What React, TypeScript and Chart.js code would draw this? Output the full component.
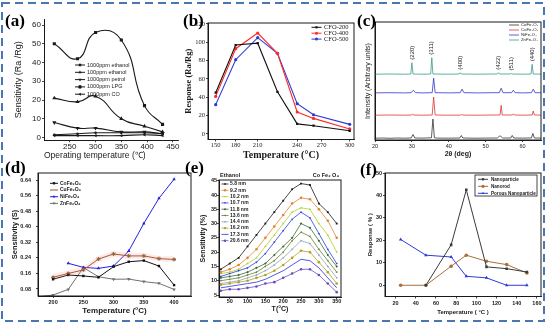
import React, { useEffect, useRef } from 'react';
import { Chart, registerables } from 'chart.js';
import { drawPoint } from 'chart.js/helpers';

Chart.register(...registerables);

// ---------------- (a) ----------------
const aTemps = [220, 265, 300, 350, 395, 430];
const aEthanol1000 = [50, 42, 56, 52, 17, 7];
const aEthanol100 = [21, 19, 22, 10, 6, 3];
const aPetrol = [8, 5, 5, 3, 3, 2];
const aLPG = [1.5, 2, 2.5, 2.5, 2.5, 2];
const aCO = [1, 1, 1, 1, 1.5, 1];
const aXTicks = [250, 300, 350, 400, 450];
const aYTicks = [0, 10, 20, 30, 40, 50, 60];

// ---------------- (b) ----------------
const bTemps = [150, 180, 210, 225, 240, 260, 300];
const bCFO200 = [45, 97, 99, 46, 11, 9, 3.5];
const bCFO400 = [41, 93, 110, 88, 24, 17, 5.5];
const bCFO500 = [32, 81, 105, 88, 33, 21, 10.5];
const bXTicks = [150, 180, 210, 240, 270, 300];
// the printed temperature axis is not evenly spaced: position of each labelled tick along it
const bXTickStops = [0, 20, 42, 81.5, 106, 134];
const bYTicks = [0, 20, 40, 60, 80, 100, 120];

// ---------------- (c) XRD ----------------
const cNames = ['CoFe₂O₄', 'CuFe₂O₄', 'NiFe₂O₄', 'ZnFe₂O₄'];
const cOffsets = [1, 24, 46.3, 65];
const cCoTheta = [20, 22, 24, 26, 28, 29.8, 30.3, 30.8, 33, 35.3, 35.7, 36.1, 37, 40, 43.0, 43.4, 43.8, 47, 50, 53.2, 53.7, 54.1, 54.6, 56.8, 57.2, 57.6, 60, 62.4, 62.8, 63.2, 65];
const cCoI = [0.8, 1.0, 0.7, 1.0, 0.8, 1.0, 4.5, 1.0, 0.9, 1.2, 20, 1.2, 0.9, 0.8, 1.0, 3.5, 1.0, 0.8, 0.9, 1.0, 2.8, 2.8, 1.0, 1.0, 3.5, 1.0, 0.9, 1.0, 5.5, 1.0, 0.9];
const cCuTheta = [20, 24, 28, 29.9, 30.2, 30.5, 33, 35.5, 35.9, 36.3, 40, 43.2, 43.5, 43.8, 48, 52, 53.9, 54.2, 54.5, 57.1, 57.5, 57.9, 60, 62.6, 62.9, 63.2, 65];
const cCuI = [0.8, 1.0, 0.8, 1.0, 1.8, 1.0, 0.8, 1.0, 19, 1.0, 0.8, 0.9, 1.5, 0.9, 0.8, 1.0, 1.0, 10.7, 1.0, 1.0, 1.8, 1.0, 0.8, 1.0, 5, 1.0, 0.9];
const cNiTheta = [20, 24, 28, 29.8, 30.4, 31.0, 33, 35.5, 35.9, 36.3, 40, 43.1, 43.6, 44.1, 48, 52, 53.7, 54.2, 54.7, 57.0, 57.5, 58.0, 60, 62.4, 62.9, 63.4, 65];
const cNiI = [0.8, 1.0, 0.8, 1.0, 3.5, 1.0, 0.8, 1.0, 15.5, 1.0, 0.8, 1.0, 4.5, 1.0, 0.8, 1.0, 1.0, 5.5, 1.0, 1.0, 3.5, 1.0, 0.8, 1.0, 4.5, 1.0, 0.9];
const cZnTheta = [20, 24, 28, 29.7, 30.0, 30.3, 33, 35.1, 35.4, 35.7, 40, 42.8, 43.1, 43.4, 48, 52, 53.2, 53.5, 53.8, 56.7, 57.0, 57.3, 60, 62.3, 62.6, 62.9, 65];
const cZnI = [0.8, 1.0, 0.8, 1.0, 12.3, 1.0, 0.8, 1.0, 17.3, 1.0, 0.8, 1.0, 2.3, 1.0, 0.8, 1.0, 1.0, 2.3, 1.0, 1.0, 1.5, 1.0, 0.8, 1.0, 10.7, 1.0, 0.9];
const cPeakLabels = ['(220)', '(311)', '(400)', '(422)', '(511)', '(440)'];
const cPeakTheta = [30.0, 35.4, 43.1, 53.5, 57.0, 62.6];
const cXTicks = [20, 30, 40, 50, 60];

// ---------------- (d) ----------------
const dTemps = [200, 225, 250, 275, 300, 325, 350, 375, 400];
const dCo = [0.13, 0.152, 0.147, 0.14, 0.195, 0.22, 0.226, 0.198, 0.1];
const dCu = [0.14, 0.16, 0.178, 0.234, 0.26, 0.25, 0.25, 0.236, 0.232];
const dCuUpper = [0.158, 0.175, 0.195, 0.25, 0.275, 0.265, 0.265, 0.25, 0.248];
const dCuLower = [0.125, 0.145, 0.16, 0.22, 0.245, 0.235, 0.235, 0.222, 0.218];
const dNiTemps = [225, 250, 275, 300, 325, 350, 375, 400];
const dNi = [0.212, 0.191, 0.186, 0.198, 0.275, 0.417, 0.546, 0.644];
const dZnTemps = [175, 200, 225, 250, 275, 300, 325, 350, 375, 400];
const dZn = [0.04, 0.049, 0.078, 0.19, 0.143, 0.13, 0.131, 0.118, 0.109, 0.078];
const dXTicks = [200, 250, 300, 350, 400];
const dYTicks = [0.08, 0.16, 0.24, 0.32, 0.4, 0.48, 0.56, 0.64];

// ---------------- (e) ----------------
const eTemps = [25, 50, 75, 100, 125, 150, 175, 200, 225, 250, 275, 300, 325, 350];
const eSizes = ['5.8 nm', '9.2 nm', '10.2 nm', '10.7 nm', '11.8 nm', '13.6 nm', '14.4 nm', '16.2 nm', '17.3 nm', '20.6 nm'];
const e58 = [14, 16, 18, 22, 26, 30, 34, 38, 42, 44, 43.5, 37, 34, 30];
const e92 = [13, 14, 15.5, 18, 21, 25, 29, 33, 37, 39, 38.5, 35, 31, 25];
const e102 = [12.5, 13, 14, 16, 18, 22, 26, 30, 34, 35.5, 35, 30, 26, 20];
const e107 = [11.5, 12.5, 13.5, 14.5, 16.5, 19.5, 23.5, 27.5, 31.5, 34, 32, 26.5, 21, 16];
const e118 = [11, 11.5, 12, 13, 14.5, 16, 19, 22, 25, 30, 28.5, 24, 19, 15];
const e136 = [10, 10.5, 11, 12, 13, 15, 17, 20, 24, 27, 25.5, 21, 17, 13];
const e144 = [9, 9.5, 10, 11, 12, 13.5, 15.5, 18, 21, 24, 23, 19, 15, 11];
const e162 = [8.5, 9, 9.5, 10, 11, 12, 13.5, 15.5, 18, 20.5, 20, 16.5, 13, 9];
const e173 = [7.5, 8, 8.5, 9, 9.5, 10.5, 12, 13.5, 15.5, 17.5, 17, 14.5, 11, 7.5];
const e206 = [6.5, 7, 7, 7.5, 8, 9, 9.5, 11, 12.5, 14, 14, 12, 9, 6];
const eXTicks = [50, 100, 150, 200, 250, 300, 350];
const eYTicks = [5, 10, 15, 20, 25, 30, 35, 40, 45];

// ---------------- (f) ----------------
const fTemps = [25, 50, 75, 90, 110, 130, 150];
const fNanoparticleTemps = [50, 75, 90, 110, 130, 150];
const fNanoparticle = [0, 18, 42.5, 8.2, 7.4, 5.9];
const fNanorod = [0, 0, 8.5, 13.4, 10.7, 9.2, 5.5];
const fPorous = [20.4, 13.4, 12.6, 4, 3.3, 0, 0];
const fXTicks = [20, 40, 60, 80, 100, 120, 140, 160];
const fYTicks = [0, 10, 20, 30, 40, 50];

const SANS = '"Liberation Sans", Arial, sans-serif';
const SERIF = '"Liberation Serif", "Times New Roman", serif';
const INK = '#1a1a1a';

const pts = (xs: number[], ys: number[], off = 0) => xs.map((x, i) => ({ x, y: ys[i] + off }));

function warpB(t: number) {
  for (let i = 0; i < bXTicks.length - 1; i++) {
    if (t <= bXTicks[i + 1] || i === bXTicks.length - 2) {
      const f = (t - bXTicks[i]) / (bXTicks[i + 1] - bXTicks[i]);
      return bXTickStops[i] + f * (bXTickStops[i + 1] - bXTickStops[i]);
    }
  }
  return 0;
}

type AxisOpt = {
  min: number; max: number; ticks?: number[]; size: number;
  family: string; fsize: number; weight?: string; tl?: number; pad?: number;
  title?: string; tfamily?: string; tsize?: number; tweight?: string; align?: string;
  labels?: (v: number, i: number) => string; showTicks?: boolean;
};

function axis(o: AxisOpt) {
  return {
    type: 'linear',
    min: o.min,
    max: o.max,
    afterBuildTicks: (s: any) => {
      if (o.ticks) s.ticks = o.ticks.map((v) => ({ value: v }));
    },
    afterFit: (s: any) => {
      if (s.isHorizontal()) s.height = o.size;
      else s.width = o.size;
      s.paddingLeft = 0; s.paddingRight = 0; s.paddingTop = 0; s.paddingBottom = 0;
    },
    ticks: {
      display: o.showTicks !== false,
      autoSkip: false,
      maxRotation: 0,
      minRotation: 0,
      color: INK,
      padding: o.pad ?? 1,
      font: { family: o.family, size: o.fsize, weight: o.weight || 'normal', lineHeight: 1 },
      callback: o.labels ? (v: any, i: number) => o.labels!(v, i) : undefined,
    },
    grid: {
      display: o.showTicks !== false,
      drawOnChartArea: false,
      drawTicks: true,
      tickLength: o.tl ?? 2,
      color: INK,
      lineWidth: 0.8,
    },
    border: { display: true, color: INK, width: 1 },
    title: {
      display: !!o.title,
      text: o.title,
      color: INK,
      padding: 0,
      align: o.align || 'center',
      font: { family: o.tfamily || o.family, size: o.tsize || 8, weight: o.tweight || 'normal' },
    },
  };
}

type LegendSpec = {
  x: number; y: number; dy: number; len: number; tx: number; font: string; r: number; lw: number;
  box?: [number, number, number, number];
};

function drawLegend(chart: any, s: LegendSpec) {
  const ctx = chart.ctx as CanvasRenderingContext2D;
  ctx.save();
  if (s.box) {
    ctx.strokeStyle = INK;
    ctx.lineWidth = 0.8;
    ctx.strokeRect(s.box[0], s.box[1], s.box[2], s.box[3]);
  }
  let i = 0;
  for (const ds of chart.data.datasets) {
    if (!ds.label) continue;
    const y = s.y + i * s.dy;
    ctx.strokeStyle = ds.borderColor;
    ctx.fillStyle = ds.pointBackgroundColor || ds.borderColor;
    ctx.lineWidth = s.lw;
    ctx.beginPath();
    ctx.moveTo(s.x, y);
    ctx.lineTo(s.x + s.len, y);
    ctx.stroke();
    if (ds.pointRadius > 0) {
      drawPoint(ctx, { pointStyle: ds.pointStyle, rotation: ds.pointRotation || 0, radius: s.r, borderWidth: 0 } as any, s.x + s.len / 2, y);
    }
    ctx.fillStyle = INK;
    ctx.font = s.font;
    ctx.textAlign = 'left';
    ctx.textBaseline = 'middle';
    ctx.fillText(ds.label, s.tx, y);
    i++;
  }
  ctx.restore();
}

function panelLabel(ctx: CanvasRenderingContext2D, text: string, x: number, y: number) {
  ctx.save();
  ctx.font = `bold 17px ${SERIF}`;
  ctx.fillStyle = '#000';
  ctx.textAlign = 'left';
  ctx.textBaseline = 'alphabetic';
  ctx.fillText(text, x, y);
  ctx.restore();
}

function frame(chart: any) {
  const ctx = chart.ctx as CanvasRenderingContext2D;
  const a = chart.chartArea;
  ctx.save();
  ctx.strokeStyle = INK;
  ctx.lineWidth = 1;
  ctx.strokeRect(a.left, a.top, a.right - a.left, a.bottom - a.top);
  ctx.restore();
}

function base(datasets: any[], scales: any, padding: any, after: (chart: any) => void) {
  return {
    type: 'line',
    data: { datasets },
    options: {
      responsive: false,
      animation: false,
      devicePixelRatio: 1,
      events: [],
      layout: { padding },
      plugins: { legend: { display: false }, tooltip: { enabled: false }, title: { display: false } },
      scales,
    },
    plugins: [{ id: 'decor', afterDraw: after }],
  } as any;
}

const line = (label: string, data: any[], color: string, style: any, r: number, extra: any = {}) => ({
  label,
  data,
  borderColor: color,
  backgroundColor: color,
  pointBackgroundColor: color,
  pointBorderWidth: 0,
  pointRadius: r,
  pointStyle: style,
  borderWidth: 1,
  tension: 0,
  fill: false,
  ...extra,
});

function configA() {
  const smooth = { tension: 0.5, borderWidth: 1.1 };
  const ds = [
    line('1000ppm ethanol', pts(aTemps, aEthanol1000), INK, 'rect', 2.2, smooth),
    line('100ppm ethanol', pts(aTemps, aEthanol100), INK, 'triangle', 2.4, smooth),
    line('1000ppm petrol', pts(aTemps, aPetrol), INK, 'triangle', 2.4, { ...smooth, pointRotation: 180 }),
    line('1000ppm LPG', pts(aTemps, aLPG), INK, 'circle', 1.3, smooth),
    line('1000ppm CO', pts(aTemps, aCO), INK, 'triangle', 2, { ...smooth, pointRotation: 270 }),
  ];
  const scales = {
    x: axis({ min: 200, max: 460, ticks: aXTicks, size: 20.3, family: SANS, fsize: 8, tl: 2, pad: 0, title: 'Operating temperature (℃)', tsize: 8.5, align: 'start' }),
    y: axis({ min: -1.5, max: 63, ticks: aYTicks, size: 30.9, family: SANS, fsize: 8, tl: 2, pad: 1, title: 'Sensitivity (Ra /Rg)', tsize: 9 }),
  };
  return base(ds, scales, { left: 13.1, top: 19.4, right: 372, bottom: 166.4 }, (chart) => {
    drawLegend(chart, { x: 75, y: 65, dy: 7.3, len: 10, tx: 87, font: `5.5px ${SANS}`, r: 1.8, lw: 1 });
    panelLabel(chart.ctx, '(a)', 5, 26);
  });
}

function configB() {
  const bx = bTemps.map(warpB);
  const ds = [
    line('CFO-200', pts(bx, bCFO200), '#111111', 'rect', 1.6, { borderWidth: 1.1 }),
    line('CFO-400', pts(bx, bCFO400), '#ff2a2a', 'circle', 1.6, { borderWidth: 1.1 }),
    line('CFO-500', pts(bx, bCFO500), '#2b3bd4', 'circle', 1.6, { borderWidth: 1.1 }),
  ];
  const scales = {
    x: axis({ min: -7.7, max: 138.3, ticks: bXTickStops, size: 21.5, family: SERIF, fsize: 6.5, tl: 2, pad: 0.5, labels: (_v, i) => String(bXTicks[i]), title: 'Temperature (°C)', tsize: 10, tweight: 'bold' }),
    y: axis({ min: -6, max: 121, ticks: bYTicks, size: 24.1, family: SERIF, fsize: 6.5, tl: 2, pad: 1, title: 'Response (Ra/Rg)', tsize: 8.5, tweight: 'bold' }),
  };
  return base(ds, scales, { left: 183.9, top: 23, right: 196, bottom: 166 }, (chart) => {
    frame(chart);
    drawLegend(chart, { x: 311.5, y: 27.3, dy: 5.9, len: 10, tx: 324, font: `6.5px ${SERIF}`, r: 1.5, lw: 1 });
    panelLabel(chart.ctx, '(b)', 183, 26);
  });
}

function configC() {
  const colors = ['#333333', '#e03535', '#3535d0', '#3a9a8a'];
  const series = [
    [cCoTheta, cCoI],
    [cCuTheta, cCuI],
    [cNiTheta, cNiI],
    [cZnTheta, cZnI],
  ];
  const ds = series.map(([t, v], i) => line(cNames[i], pts(t, v, cOffsets[i]), colors[i], false, 0, { borderWidth: 0.8 }));
  const scales = {
    x: axis({ min: 20, max: 65, ticks: cXTicks, size: 18.7, family: SANS, fsize: 5.5, tl: 2, pad: 2, title: '2θ (deg)', tsize: 7, tweight: 'bold' }),
    y: axis({ min: 0, max: 118, size: 10.7, family: SANS, fsize: 5.5, showTicks: false, title: 'Intensity (Arbitrary units)', tsize: 7 }),
  };
  return base(ds, scales, { left: 364.3, top: 22, right: 9, bottom: 168.3 }, (chart) => {
    frame(chart);
    const ctx = chart.ctx as CanvasRenderingContext2D;
    const xs = chart.scales.x;
    const ys = chart.scales.y;
    ctx.save();
    ctx.font = `6px ${SANS}`;
    ctx.fillStyle = INK;
    ctx.textAlign = 'left';
    ctx.textBaseline = 'middle';
    cPeakLabels.forEach((lab, i) => {
      const idx = cZnTheta.indexOf(cPeakTheta[i]);
      const top = ys.getPixelForValue(cZnI[idx] + cOffsets[3]);
      ctx.save();
      ctx.translate(xs.getPixelForValue(cPeakTheta[i]), top - 3);
      ctx.rotate(-Math.PI / 2);
      ctx.fillText(lab, 0, 0);
      ctx.restore();
    });
    ctx.restore();
    drawLegend(chart, { x: 509, y: 25, dy: 5, len: 10, tx: 521, font: `4.3px ${SANS}`, r: 1, lw: 0.8 });
    panelLabel(ctx, '(c)', 357, 26);
  });
}

function configD() {
  const band = {
    borderWidth: 0, pointRadius: 0, borderColor: 'rgba(0,0,0,0)', backgroundColor: 'rgba(255,120,120,0.16)',
  };
  const ds = [
    { ...band, label: '', data: pts(dTemps, dCuUpper), fill: false, tension: 0 },
    { ...band, label: '', data: pts(dTemps, dCuLower), fill: '-1', tension: 0 },
    line('CoFe₂O₄', pts(dTemps, dCo), '#111111', 'rect', 1.7),
    line('CuFe₂O₄', pts(dTemps, dCu), '#8b5a2b', 'star', 2, { pointBorderWidth: 1, pointBorderColor: '#8b5a2b' }),
    line('NiFe₂O₄', pts(dNiTemps, dNi), '#2222e0', 'triangle', 2),
    line('ZnFe₂O₄', pts(dZnTemps, dZn), '#707070', 'triangle', 2, { pointRotation: 180 }),
  ];
  const scales = {
    x: axis({ min: 175, max: 428, ticks: dXTicks, size: 19.8, family: SANS, fsize: 5.5, weight: 'bold', tl: 2, pad: 1.25, title: 'Temperature (°C)', tsize: 8, tweight: 'bold' }),
    y: axis({ min: 0.044, max: 0.676, ticks: dYTicks, size: 27.5, family: SANS, fsize: 5.5, weight: 'bold', tl: 2, pad: 5, labels: (v) => Number(v).toFixed(2), title: 'Sensitivity (S)', tsize: 7.5, tweight: 'bold' }),
  };
  return base(ds, scales, { left: 10.5, top: 173, right: 359, bottom: 11.2 }, (chart) => {
    frame(chart);
    drawLegend(chart, { x: 50, y: 183.3, dy: 6.7, len: 8, tx: 60, font: `bold 5px ${SANS}`, r: 1.6, lw: 1 });
    panelLabel(chart.ctx, '(d)', 5, 173);
  });
}

function configE() {
  const colors = ['#1a1a1a', '#e0862f', '#b6cc26', '#2a3fe0', '#3d6b3a', '#6b7f2d', '#8fa3b5', '#b5a21e', '#2233dd', '#6a4cc0'];
  const styles = ['rect', 'circle', 'triangle', 'triangle', 'rectRot', 'triangle', 'triangle', 'circle', 'star', 'circle'];
  const rots = [0, 0, 0, 180, 0, 270, 90, 0, 0, 0];
  const vals = [e58, e92, e102, e107, e118, e136, e144, e162, e173, e206];
  const ds = vals.map((v, i) => line(eSizes[i], pts(eTemps, v), colors[i], styles[i], 1.3, { borderWidth: 0.8, pointRotation: rots[i] }));
  const scales = {
    x: axis({ min: 20, max: 362, ticks: eXTicks, size: 16.7, family: SANS, fsize: 5.5, weight: 'bold', tl: 2, pad: 0, title: 'T(°C)', tsize: 7, tweight: 'bold' }),
    y: axis({ min: 4.3, max: 45.25, ticks: eYTicks, size: 19.7, family: SANS, fsize: 5.5, weight: 'bold', tl: 2, pad: 0, title: 'Sensitivity (%)', tsize: 7, tweight: 'bold' }),
  };
  return base(ds, scales, { left: 199.3, top: 180, right: 209, bottom: 13.3 }, (chart) => {
    frame(chart);
    drawLegend(chart, { x: 221.5, y: 184, dy: 6.3, len: 7, tx: 230, font: `bold 5px ${SANS}`, r: 1.2, lw: 0.8 });
    const ctx = chart.ctx as CanvasRenderingContext2D;
    ctx.save();
    ctx.fillStyle = INK;
    ctx.font = `bold 5.5px ${SANS}`;
    ctx.textBaseline = 'middle';
    ctx.textAlign = 'left';
    ctx.fillText('Ethanol', 220, 175.5);
    ctx.textAlign = 'right';
    ctx.fillText('Co Fe₂ O₄', 339, 175.5);
    ctx.restore();
    panelLabel(ctx, '(e)', 185, 173);
  });
}

function configF() {
  const ds = [
    line('Nanoparticle', pts(fNanoparticleTemps, fNanoparticle), '#3a3a3a', 'rect', 1.8),
    line('Nanorod', pts(fTemps, fNanorod), '#a86f3c', 'circle', 1.8),
    line('Porous Nanoparticle', pts(fTemps, fPorous), '#2b3ad8', 'triangle', 2),
  ];
  const scales = {
    x: axis({ min: 9.5, max: 164, ticks: fXTicks, size: 19.6, family: SANS, fsize: 5.5, weight: 'bold', tl: 2, pad: 2, title: 'Temperature ( °C )', tsize: 6, tweight: 'bold' }),
    y: axis({ min: -5, max: 50, ticks: fYTicks, size: 18.6, family: SANS, fsize: 5.5, weight: 'bold', tl: 2, pad: 1, title: 'Response ( % )', tsize: 6, tweight: 'bold' }),
  };
  return base(ds, scales, { left: 366.4, top: 173, right: 9, bottom: 10.9 }, (chart) => {
    frame(chart);
    drawLegend(chart, { x: 478, y: 179.3, dy: 7, len: 10, tx: 491, font: `bold 4.6px ${SANS}`, r: 1.6, lw: 1, box: [475, 175, 62, 21] });
    panelLabel(chart.ctx, '(f)', 360, 175);
  });
}

const builders = [configA, configB, configC, configD, configE, configF];

export default function App() {
  const r0 = useRef<HTMLCanvasElement>(null);
  const r1 = useRef<HTMLCanvasElement>(null);
  const r2 = useRef<HTMLCanvasElement>(null);
  const r3 = useRef<HTMLCanvasElement>(null);
  const r4 = useRef<HTMLCanvasElement>(null);
  const r5 = useRef<HTMLCanvasElement>(null);
  const refs = [r0, r1, r2, r3, r4, r5];

  useEffect(() => {
    const charts = builders.map((b, i) => new Chart(refs[i].current as HTMLCanvasElement, b()));
    return () => charts.forEach((c) => c.destroy());
  }, []);

  return (
    <div style={{ position: 'fixed', left: 0, top: 0, width: 550, height: 327, background: '#ffffff', overflow: 'hidden' }}>
      <svg width={550} height={327} style={{ position: 'absolute', left: 0, top: 0 }}>
        <rect x={2} y={3} width={542} height={318} fill="none" stroke="#4b76b0" strokeWidth={2} strokeDasharray="8 5" />
      </svg>
      {refs.map((r, i) => (
        <canvas key={i} ref={r} width={550} height={327} style={{ position: 'absolute', left: 0, top: 0, pointerEvents: 'none' }} />
      ))}
    </div>
  );
}
